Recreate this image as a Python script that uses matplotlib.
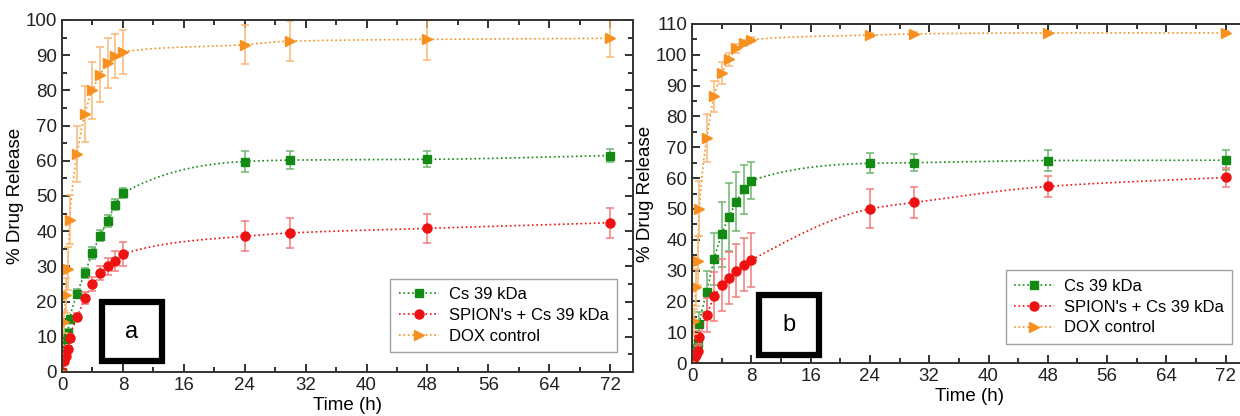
import numpy as np
import matplotlib.pyplot as plt
from matplotlib.patches import Rectangle

plt.rcParams['font.family'] = ['Liberation Sans', 'DejaVu Sans']

# sampling times (h)
t = np.array([0, 0.25, 0.5, 0.75, 1, 2, 3, 4, 5, 6, 7, 8, 24, 30, 48, 72])

# panel a
cs_a = [0, 6.2, 9.5, 11.1, 15.0, 22.3, 28.2, 33.8, 38.7, 43.0, 47.5, 50.8, 59.8, 60.2, 60.4, 61.5]
cs_a_err = [0, 0.8, 1, 1, 1, 1.2, 1.4, 1.6, 1.6, 1.7, 1.6, 1.5, 3.0, 2.6, 2.3, 1.8]
sp_a = [0, 3.0, 4.5, 6.5, 9.8, 15.6, 21.0, 24.9, 28.0, 30.0, 31.6, 33.5, 38.6, 39.5, 40.8, 42.4]
sp_a_err = [0, 0.6, 0.8, 1, 1, 1.2, 1.6, 2.0, 2.0, 2.4, 2.8, 3.3, 4.3, 4.3, 4.2, 4.3]
dox_a = [0, 14.2, 21.8, 29.4, 43.3, 62.0, 73.3, 80.0, 84.5, 87.8, 89.7, 91.0, 93.0, 94.0, 94.5, 94.8]
dox_a_err = [0, 3, 5, 6, 7, 8, 8, 8, 7.7, 7, 6.3, 6.3, 5.5, 5.7, 6.0, 5.2]

# panel b
cs_b = [0, 2.5, 4.5, 6.5, 12.7, 23.2, 33.8, 41.8, 47.5, 52.4, 56.4, 59.2, 64.8, 65.0, 65.7, 65.8]
cs_b_err = [0, 1, 1.5, 2, 4, 6.8, 8.5, 10.5, 11, 9.5, 8, 6, 3.3, 2.8, 3.4, 3.3]
sp_b = [0, 1.5, 2.5, 4.0, 8.3, 15.5, 21.6, 25.3, 27.5, 30.0, 31.9, 33.4, 50.0, 52.1, 57.3, 60.2]
sp_b_err = [0, 0.8, 1, 1.5, 2, 5.5, 8, 8.5, 8.5, 8.5, 8.5, 8.8, 6.3, 5.0, 3.4, 3.1]
dox_b = [0, 13.5, 24.6, 33.2, 50.1, 73.0, 86.6, 94.1, 98.5, 102.1, 103.8, 104.9, 106.4, 106.8, 107.1, 107.1]
dox_b_err = [0, 4, 6, 8, 9, 7.8, 5, 3.5, 2, 1.5, 1, 0.8, 0.6, 0.5, 0.5, 0.5]

labels = ['Cs 39 kDa', "SPION's + Cs 39 kDa", 'DOX control']
colors = ['#138a13', '#ee1111', '#f7901e']
err_colors = ['#6fb56f', '#f47a7a', '#f9b874']
markers = ['s', 'o', '>']
msizes = [5.5, 6.5, 6.5]


def pchip(x, y, xs):
    # monotone cubic guide line through the measured points
    x = np.asarray(x, float); y = np.asarray(y, float)
    h = np.diff(x); d = np.diff(y) / h
    m = np.zeros_like(y)
    for k in range(1, len(x) - 1):
        if d[k - 1] * d[k] > 0:
            w1 = 2 * h[k] + h[k - 1]; w2 = h[k] + 2 * h[k - 1]
            m[k] = (w1 + w2) / (w1 / d[k - 1] + w2 / d[k])
    m[0] = d[0]; m[-1] = d[-1]
    i = np.clip(np.searchsorted(x, xs) - 1, 0, len(h) - 1)
    s = (xs - x[i]) / h[i]
    return ((2*s**3 - 3*s**2 + 1) * y[i] + (s**3 - 2*s**2 + s) * h[i] * m[i]
            + (-2*s**3 + 3*s**2) * y[i + 1] + (s**3 - s**2) * h[i] * m[i + 1])


def panel(ax, series, errs, ymax, tag, box):
    xs = np.linspace(0, 72, 800)
    for k, (y, e) in enumerate(zip(series, errs)):
        ax.plot(xs, pchip(t, y, xs), ':', color=colors[k], lw=1.2)
        ax.errorbar(t, y, yerr=e, fmt='none', ecolor=err_colors[k], elinewidth=1.1,
                    capsize=3, capthick=1.1)
        ax.plot(t, y, ls='none', marker=markers[k], ms=msizes[k], color=colors[k],
                mec=colors[k])
    for k in range(3):
        ax.plot([], [], ':', color=colors[k], marker=markers[k], ms=msizes[k],
                label=labels[k], lw=1.2)
    ax.set_xlim(0, 75)
    ax.set_ylim(0, ymax)
    ax.set_xticks(np.arange(0, 73, 8))
    ax.set_xticks(np.arange(0, 75, 4), minor=True)
    ax.set_yticks(np.arange(0, ymax + 1, 10))
    ax.set_yticks(np.arange(0, ymax, 5), minor=True)
    ax.tick_params(which='both', direction='in', top=True, right=True,
                   labelsize=13.5, colors='#222222', width=1.3)
    ax.tick_params(which='major', length=6)
    ax.tick_params(which='minor', length=3.5)
    for sp in ax.spines.values():
        sp.set_color('#333333')
        sp.set_linewidth(1.4)
    ax.set_xlabel('Time (h)', fontsize=13.5, labelpad=2)
    ax.set_ylabel('% Drug Release', fontsize=13.5, labelpad=1)
    leg = ax.legend(loc='lower right', fontsize=12, frameon=True, fancybox=False,
                    borderaxespad=0, handlelength=2.4, labelspacing=0.35,
                    borderpad=0.5, handletextpad=0.6,
                    bbox_to_anchor=(0.972, 0.057))
    leg.get_frame().set_edgecolor('#888888')
    leg.get_frame().set_linewidth(1.0)
    x0, y0, w, hgt = box
    ax.add_patch(Rectangle((x0, y0), w, hgt, transform=ax.transAxes, fill=False,
                           ec='black', lw=4.5, zorder=5, clip_on=False))
    ax.text(x0 + w / 2, y0 + hgt / 2, tag, transform=ax.transAxes, fontsize=17,
            ha='center', va='center')


fig = plt.figure(figsize=(12.4, 4.16), dpi=100)
ax_a = fig.add_axes([62 / 1240, 1 - 372 / 416, 571 / 1240, 352 / 416])
ax_b = fig.add_axes([692 / 1240, 1 - 363 / 416, 556 / 1240, 339 / 416])

panel(ax_a, [cs_a, sp_a, dox_a], [cs_a_err, sp_a_err, dox_a_err], 100, 'a',
      (40 / 571, 11 / 352, 60 / 571, 59 / 352))
panel(ax_b, [cs_b, sp_b, dox_b], [cs_b_err, sp_b_err, dox_b_err], 110, 'b',
      (67 / 556, 8 / 339, 60 / 556, 60 / 339))

fig.savefig('out.png', dpi=100)
